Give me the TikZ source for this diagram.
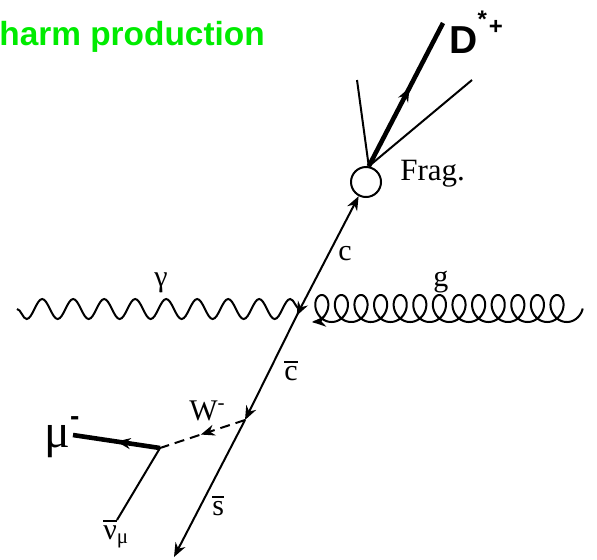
\documentclass[tikz,border=0pt]{standalone}
\usepackage{fontspec}
\setmainfont{Liberation Serif}
\newfontfamily\helv{Liberation Sans}
\usetikzlibrary{arrows.meta,decorations.pathmorphing,decorations.markings}
\definecolor{titlegreen}{RGB}{0,235,0}
\newcommand\barred[1]{\vbox{\hrule height 1pt\kern1.5pt\hbox{#1}}}
\tikzset{
  fermion/.style={line width=1pt},
  heavy/.style={line width=2.3pt},
  midarrow/.style={postaction={decorate,decoration={markings,
      mark=at position #1 with {\arrow{Stealth[length=7pt,width=5.5pt]}}}}},
  midarrow/.default=0.55,
  photon/.style={decorate,decoration={snake,amplitude=5pt,segment length=15.5pt,mirror},line width=1pt},
  gluon/.style={line width=1pt},
  lab/.style={anchor=base west,inner sep=0pt,font=\fontsize{15}{17}\selectfont},
}
\begin{document}
\begin{tikzpicture}[x=0.5pt, y=-0.5pt, >={Stealth[length=7pt,width=5.5pt]}]
  \useasboundingbox (0,0) rectangle (597,559);

  % Titolo
  \node[anchor=base west, inner sep=0pt, text=titlegreen,
        font=\helv\bfseries\fontsize{16.7}{20}\selectfont] (title) at (-1,45) {harm production};

  % Vertici
  \coordinate (V) at (300,309);
  \coordinate (Wv) at (245,420);
  \coordinate (muv) at (160,448);
  \coordinate (sbarend) at (174,557);
  \coordinate (phin) at (17,309);
  \node[draw, circle, line width=1pt, minimum size=15pt, inner sep=0pt] (frag) at (366,182) {};

  % Fotone
  \draw[photon] (phin) -- (V);
  % Gluone (ricci disegnati come cicloide, freccia verso il vertice)
  \draw[gluon,<-] plot[domain=180:4950, samples=700]
    ({302.2 + \x/360*19.6 - 11*sin(\x)}, {308.5 - 13.5*cos(\x)});

  % Linea del quark charm
  \draw[fermion,->] (V) -- (frag);
  \draw[fermion,->,midarrow=0.06] (V) -- (Wv);
  \draw[fermion,->] (Wv) -- (sbarend);

  % Frammentazione
  \coordinate (jet1) at (357,80);
  \coordinate (jet2) at (472,80);
  \coordinate (dend) at (443,23);
  \draw[fermion] (frag.80) -- (jet1);
  \draw[fermion] (frag.80) -- (jet2);
  \draw[heavy,midarrow] (frag.80) -- (dend);

  % Decadimento del W
  \coordinate (muend) at (73,435);
  \coordinate (nuend) at (117,520);
  \draw[fermion,dash pattern=on 5pt off 3pt,midarrow=0.52] (Wv) -- (muv);
  \draw[heavy,midarrow=0.5] (muv) -- (muend);
  \draw[fermion] (muv) -- (nuend);

  % Etichette
  \node[lab] (gamma) at (154,286) {γ};
  \node[lab] (glab) at (433,286) {g};
  \node[lab] (clab) at (338,260) {c};
  \node[lab] (cbar) at (284,380) {\barred{c}};
  \node[lab] (sbar) at (212,515) {\barred{s}};
  \node[lab] (wlab) at (189,420) {W\textsuperscript{-}};
  \node[lab] (nulab) at (103,539) {\barred{ν}\textsubscript{μ}};
  \node[lab, font=\fontsize{15.5}{18}\selectfont] (fraglab) at (400,180) {Frag.};
  \node[lab, font=\fontsize{24}{26}\selectfont] (mulab) at (44,447)
    {μ\raisebox{10.8pt}{\helv\bfseries\fontsize{14}{14}\selectfont -}};
  \node[lab, font=\helv\bfseries\fontsize{19.5}{22}\selectfont] (dlab) at (449,53)
    {D\raisebox{12.9pt}{\fontsize{12}{12}\selectfont *}\kern1pt\raisebox{9.5pt}{\fontsize{12}{12}\selectfont +}};
\end{tikzpicture}
\end{document}
